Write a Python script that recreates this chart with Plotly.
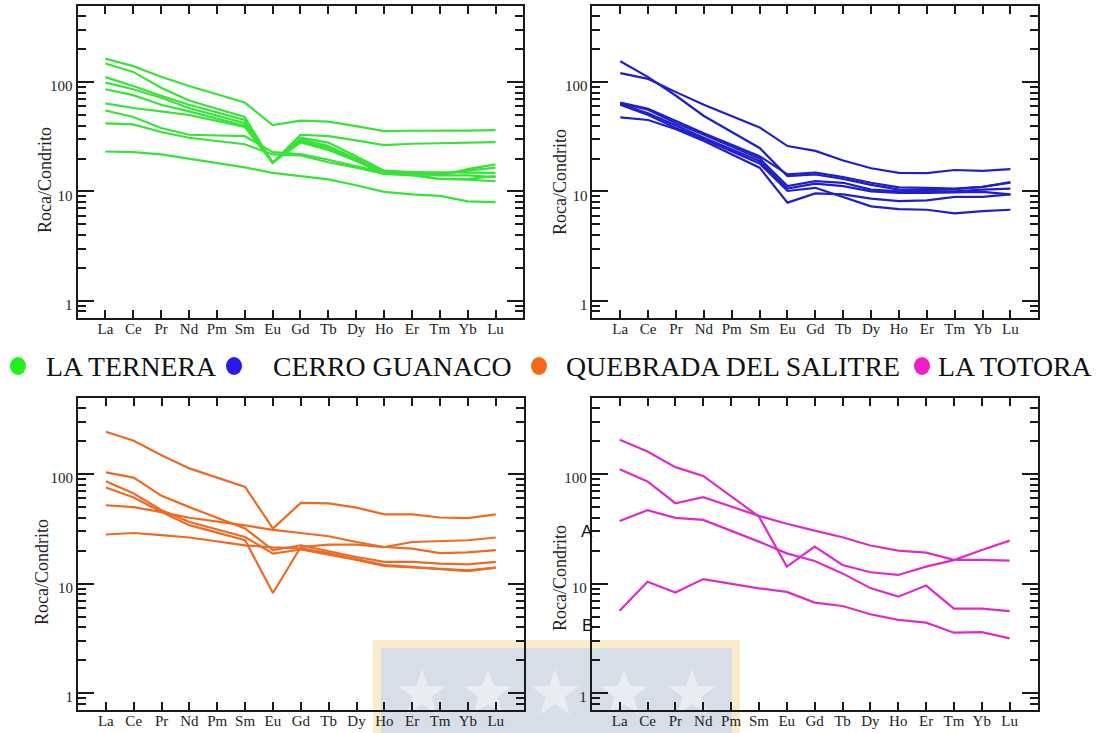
import math
import plotly.graph_objects as go

W, H = 1096, 733

elements = ["La", "Ce", "Pr", "Nd", "Pm", "Sm", "Eu", "Gd", "Tb", "Dy", "Ho", "Er", "Tm", "Yb", "Lu"]

group_names = ["LA TERNERA", "CERRO GUANACO", "QUEBRADA DEL SALITRE", "LA TOTORA"]
line_colors = ["#38E338", "#2020C8", "#EE6A22", "#DE2CC6"]
dot_colors = ["#22EE22", "#2A18EE", "#F26A18", "#EE1ECC"]

# Chondrite-normalised REE (Pm not analysed -> None)
la_ternera = [
    [164, 140, 112, 92, None, 65, 40.5, 44.5, 43.5, 39.6, 35.6, 35.9, 35.8, 36, 36.4],
    [148, 124, 89, 68, None, 48, 18.3, 33, 32, 29.3, 26.5, 27.3, 27.5, 27.9, 28.3],
    [111, 92, 75, 62, None, 45, 18.3, 31, 28, 21, 15.5, 15, 14, 16, 17.7],
    [99, 86, 72, 58, None, 42, 18.3, 30, 26, 20, 15, 15, 15, 14.8, 14.8],
    [86, 76, 62, 54, None, 40, 18.3, 29, 25, 19.5, 14.8, 14.5, 13, 13, 13.8],
    [64, 58, 54, 50, None, 39, 18.3, 28, 24, 19, 14.5, 14, 13, 12.8, 12.4],
    [55, 48, 38, 33, None, 32, 22.9, 22, 19.5, 17, 15, 14.5, 14, 14, 13.5],
    [42, 41, 35, 31, None, 27, 21.8, 21.4, 18.5, 16.5, 14.5, 14.5, 14.5, 15.5, 16.5],
    [23.2, 22.9, 21.8, 19.9, None, 16.6, 14.8, 13.8, 12.9, 11.4, 9.9, 9.4, 9.1, 8.1, 8.0],
]
cerro_guanaco = [
    [155, 111, 75, 49, None, 25, 13.8, 14.3, 13.0, 11.5, 10.4, 10.3, 10.5, 11.0, 12.2],
    [121, 107, 81, 62, None, 38.5, 26, 23.5, 19.2, 16.3, 14.8, 14.7, 15.7, 15.4, 16.0],
    [65, 57, 44, 34, None, 21, 14.3, 14.9, 13.5, 12.0, 10.9, 10.8, 10.6, 11.0, 12.0],
    [64, 56, 42, 33, None, 20, 11.2, 12.4, 12.0, 10.4, 10.0, 10.0, 10.0, 10.4, 10.6],
    [63, 52, 40, 31, None, 19, 10.6, 11.8, 11.2, 10.0, 9.7, 9.7, 9.8, 9.9, 9.4],
    [62, 50, 38, 30, None, 18, 10.1, 10.8, 8.9, 7.3, 6.9, 6.8, 6.3, 6.6, 6.8],
    [47.6, 45, 37, 29, None, 16.5, 7.9, 9.6, 9.4, 8.6, 8.15, 8.3, 8.9, 8.9, 9.4],
]
quebrada_del_salitre = [
    [244, 202, 149, 113, None, 76.6, 31.8, 54.7, 54, 49.5, 43, 43, 40.2, 39.6, 43],
    [104, 93, 63.4, 50, None, 31.9, 20.2, 22.4, 19.8, 17.5, 15.8, 15.8, 15.2, 15, 15.8],
    [86, 66.6, 46.9, 36.6, None, 26.7, 18.8, 20.5, 18.5, 16.5, 14.5, 14, 13.5, 13.2, 14],
    [75.5, 61.2, 45.2, 34.2, None, 24.9, 8.2, 21.6, 22.7, 22.7, 21.6, 24, 24.3, 24.9, 26.4],
    [52, 50, 45, 40, None, 34, 31, 29, 27.1, 24, 21.6, 20.9, 19, 19.3, 20.2],
    [28.1, 29, 27.7, 26.4, None, 22.4, 21.4, 21, 19, 16.8, 14.8, 14.2, 13.6, 13, 14],
]
la_totora = [
    [206, 161, 116, 96.5, None, 41, 14.3, 21.8, 14.8, 12.7, 12.0, 14.3, 16.4, 20.3, 24.7],
    [111, 85.8, 54.3, 61.7, None, 41.6, 35.2, 30.5, 26.5, 22.3, 20.0, 19.2, 16.5, 16.5, 16.2],
    [37.4, 46.9, 39.9, 38.2, None, 24.2, 18.9, 16.1, 12.4, 9.1, 7.6, 9.6, 5.9, 5.9, 5.6],
    [5.66, 10.4, 8.3, 11.0, None, 9.06, 8.4, 6.7, 6.25, 5.25, 4.66, 4.4, 3.56, 3.6, 3.16],
]
groups = [la_ternera, cerro_guanaco, quebrada_del_salitre, la_totora]

y_major = [1, 10, 100]
y_major_text = ["1", "10", "100"]
y_minor = [0.8, 0.9, 2, 3, 4, 5, 6, 7, 8, 9, 20, 30, 40, 50, 60, 70, 80, 90, 200, 300, 400]

# panel boxes in pixels: (left, right, top, bottom)
boxes = [(77.5, 523.4, 5.7, 317.7), (592.4, 1038.3, 5.7, 317.7),
         (78.0, 523.6, 397.7, 710.0), (591.8, 1037.5, 397.7, 710.0)]

def px(x):
    return x / W

def py(y):
    return 1 - y / H

fig = go.Figure()
layout = dict(
    width=W, height=H, margin=dict(l=0, r=0, t=0, b=0),
    paper_bgcolor="white", plot_bgcolor="rgba(0,0,0,0)", showlegend=False,
    font=dict(family="Liberation Serif", color="#222"),
)

AX = "#1a1a1a"
for i, (grp, col) in enumerate(zip(groups, line_colors)):
    n = "" if i == 0 else str(i + 1)
    l, r, t, b = boxes[i]
    for series in grp:
        fig.add_trace(go.Scatter(
            x=elements, y=series, mode="lines", connectgaps=True,
            line=dict(color=col, width=2.2), xaxis="x" + n, yaxis="y" + n,
            hoverinfo="skip"))
    layout["xaxis" + n] = dict(
        domain=[px(l), px(r)], anchor="y" + n, type="category",
        categoryorder="array", categoryarray=elements, range=[-1, 15],
        showline=True, linecolor=AX, linewidth=2, mirror="allticks",
        ticks="inside", ticklen=8, tickwidth=1.6, tickcolor=AX,
        ticklabelstandoff=-4,
        tickfont=dict(family="Liberation Serif", size=15, color="#222"),
        showgrid=False, zeroline=False)
    layout["yaxis" + n] = dict(
        domain=[py(b), py(t)], anchor="x" + n, type="log",
        range=[math.log10(0.7), math.log10(500)],
        tickmode="array", tickvals=y_major, ticktext=y_major_text,
        showline=True, linecolor=AX, linewidth=2, mirror="allticks",
        ticks="inside", ticklen=16, tickwidth=1.6, tickcolor=AX,
        ticklabelshift=4,
        tickfont=dict(family="Liberation Serif", size=15, color="#222"),
        minor=dict(tickmode="array", tickvals=y_minor, ticks="inside",
                   ticklen=8, tickwidth=1.6, tickcolor=AX, showgrid=False),
        showgrid=False, zeroline=False)

annotations = []
# y-axis titles
for (xc, yc) in [(45, 180), (560, 182), (42, 572), (560, 578)]:
    annotations.append(dict(x=px(xc), y=py(yc), xref="paper", yref="paper",
                            xanchor="center", yanchor="middle",
                            text="Roca/Condrito", textangle=-90, showarrow=False,
                            font=dict(family="Liberation Serif", size=18, color="#222")))
# A / B labels on last panel
for lab, (xc, yc) in [("A", (587, 531)), ("B", (587, 625))]:
    annotations.append(dict(x=px(xc), y=py(yc), xref="paper", yref="paper",
                            xanchor="center", yanchor="middle",
                            text=lab, showarrow=False,
                            font=dict(family="Liberation Sans", size=17, color="#111")))

# legend row
legend_dot_x = [18, 234, 539, 922]
legend_text_x = [44, 271, 564, 936]
legend_y = 366
shapes = []
for name, dc, dx, tx in zip(group_names, dot_colors, legend_dot_x, legend_text_x):
    shapes.append(dict(type="circle", xref="paper", yref="paper",
                       x0=px(dx - 8), x1=px(dx + 8), y0=py(legend_y + 9), y1=py(legend_y - 9),
                       fillcolor=dc, line=dict(width=0)))
    annotations.append(dict(x=px(tx), y=py(legend_y), xref="paper", yref="paper",
                            xanchor="left", yanchor="middle", text=name, showarrow=False,
                            font=dict(family="Liberation Serif", size=27.8, color="#111")))

# watermark (background decoration)
shapes.append(dict(type="rect", xref="paper", yref="paper", layer="below",
                   x0=px(373), x1=px(740), y0=py(740), y1=py(640),
                   fillcolor="#FBEBCB", line=dict(width=0)))
shapes.append(dict(type="rect", xref="paper", yref="paper", layer="below",
                   x0=px(381), x1=px(732), y0=py(740), y1=py(648),
                   fillcolor="#D7DEE8", line=dict(width=0)))
for cx in [422, 488, 555, 624, 692]:
    cy, R, rr = 694, 25, 10
    pts = []
    for k in range(10):
        ang = -math.pi / 2 + k * math.pi / 5
        rad = R if k % 2 == 0 else rr
        pts.append((px(cx + rad * math.cos(ang)), py(cy + rad * math.sin(ang))))
    path = "M " + " L ".join(f"{a:.5f},{b:.5f}" for a, b in pts) + " Z"
    shapes.append(dict(type="path", path=path, xref="paper", yref="paper", layer="below",
                       fillcolor="#E9EDF2", line=dict(width=0)))

layout["annotations"] = annotations
layout["shapes"] = shapes
fig.update_layout(**layout)
fig.write_html("out.html", config={"displayModeBar": False},
               post_script="document.body.style.margin='0px';document.body.style.overflow='hidden';")
